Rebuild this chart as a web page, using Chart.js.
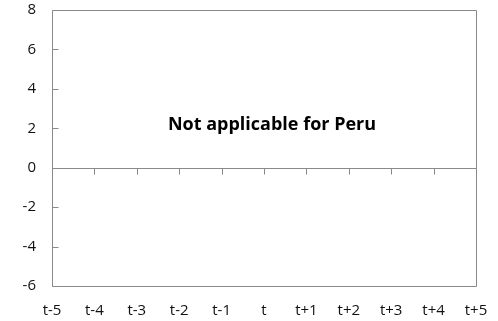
<!DOCTYPE html>
<html>
<head>
<meta charset="utf-8">
<script src="https://cdn.jsdelivr.net/npm/chart.js@4"></script>
<style>
  html, body { margin: 0; padding: 0; background: #fff; }
  #wrap { width: 498px; height: 321px; position: relative; }
</style>
</head>
<body>
<div id="wrap"><canvas id="c"></canvas></div>
<script>
// Period labels along the horizontal axis
const periods = ['t-5', 't-4', 't-3', 't-2', 't-1', 't', 't+1', 't+2', 't+3', 't+4', 't+5'];
// No series is reported for this country
const values = [null, null, null, null, null, null, null, null, null, null, null];
// Vertical axis range
const yMin = -6;
const yMax = 8;
const yStep = 2;
const note = 'Not applicable for Peru';

const axisColor = '#898989';
const textColor = '#111';
const fontFamily = '"Open Sans", "Noto Sans", sans-serif';

// Frame, zero line, inward tick marks and the centred note
const framePlugin = {
  id: 'frame',
  afterDraw(chart) {
    const { ctx, chartArea: a, scales: { x, y } } = chart;
    ctx.save();
    ctx.strokeStyle = axisColor;
    ctx.lineWidth = 1;
    const L = Math.round(a.left) + 0.5, R = Math.round(a.right) + 0.5;
    const T = Math.round(a.top) + 0.5, B = Math.round(a.bottom) + 0.5;
    ctx.beginPath();
    ctx.moveTo(L, T); ctx.lineTo(R, T); ctx.lineTo(R, B); ctx.lineTo(L, B); ctx.closePath();
    ctx.stroke();
    // zero line
    const z = Math.round(y.getPixelForValue(0)) + 0.5;
    ctx.beginPath();
    ctx.moveTo(L, z); ctx.lineTo(R, z);
    // y tick marks pointing into the plot
    y.ticks.forEach((t, i) => {
      const py = Math.round(y.getPixelForTick(i)) + 0.5;
      ctx.moveTo(L, py); ctx.lineTo(L + 6, py);
    });
    // x tick marks hanging below the zero line
    x.ticks.forEach((t, i) => {
      if (i === 0 || i === x.ticks.length - 1) return;
      const px = Math.round(x.getPixelForTick(i)) + 0.5;
      ctx.moveTo(px, z); ctx.lineTo(px, z + 6);
    });
    ctx.stroke();
    // note
    ctx.fillStyle = '#000';
    ctx.font = 'bold 18px ' + fontFamily;
    ctx.textAlign = 'center';
    ctx.textBaseline = 'middle';
    ctx.fillText(note, (a.left + a.right) / 2 + 8, y.getPixelForValue(2.15));
    ctx.restore();
  }
};

new Chart(document.getElementById('c'), {
  type: 'line',
  data: {
    labels: periods,
    datasets: [{ data: values, borderColor: '#1f4e79', pointRadius: 0 }]
  },
  options: {
    responsive: true,
    maintainAspectRatio: false,
    animation: false,
    layout: { autoPadding: false, padding: { top: 10, right: 22, bottom: 0, left: 0 } },
    plugins: { legend: { display: false }, tooltip: { enabled: false } },
    scales: {
      x: {
        offset: false,
        grid: { display: false, drawTicks: false },
        border: { display: false },
        ticks: { color: textColor, font: { family: fontFamily, size: 15 }, padding: 16, maxRotation: 0, autoSkip: false },
        afterFit(s) { s.height = 35; s.paddingLeft = 0; s.paddingRight = 0; }
      },
      y: {
        min: yMin,
        max: yMax,
        grid: { display: false, drawTicks: false },
        border: { display: false },
        ticks: { stepSize: yStep, color: textColor, font: { family: fontFamily, size: 15 }, padding: 16 },
        afterFit(s) { s.width = 52; s.paddingTop = 0; s.paddingBottom = 0; }
      }
    }
  },
  plugins: [framePlugin]
});
</script>
</body>
</html>
